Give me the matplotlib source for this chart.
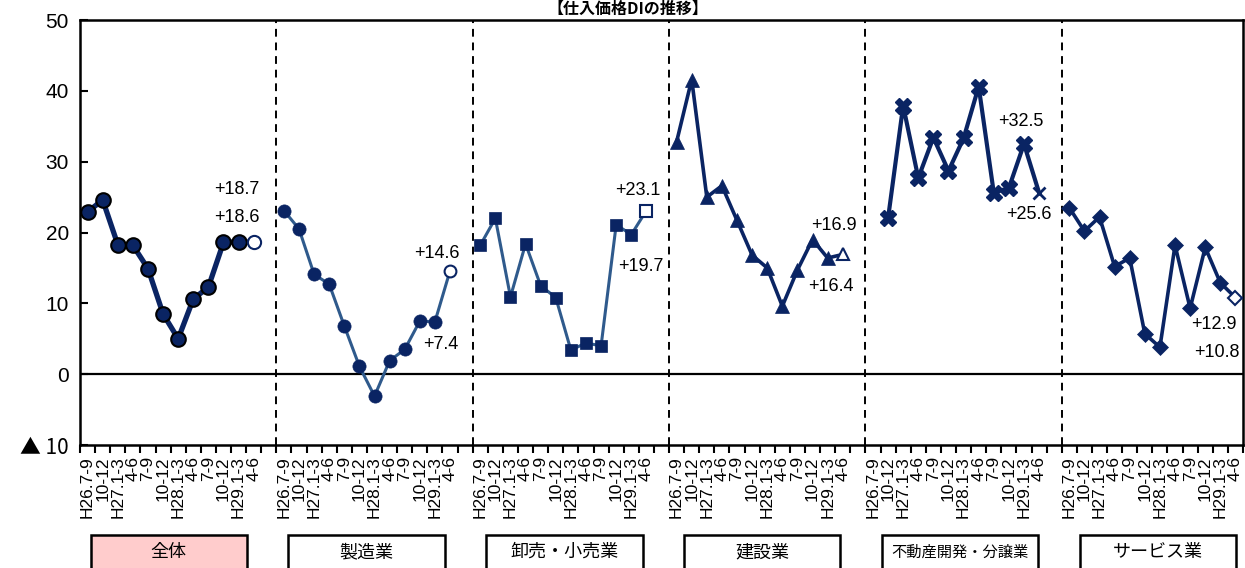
import numpy as np
import matplotlib.pyplot as plt
import matplotlib.transforms as mtransforms
from matplotlib.patches import Rectangle

plt.rcParams['font.family'] = ['Liberation Sans', 'Noto Sans CJK JP', 'DejaVu Sans']

periods = ["H26.7-9", "10-12", "H27.1-3", "4-6", "7-9", "10-12",
           "H28.1-3", "4-6", "7-9", "10-12", "H29.1-3", "4-6"]
industries = ["全体", "製造業", "卸売・小売業", "建設業", "不動産開発・分譲業", "サービス業"]

# last value of each series = forecast (open marker)
zentai = [22.9, 24.6, 18.3, 18.2, 14.9, 8.5, 5.0, 10.6, 12.3, 18.6, 18.7, 18.6]
seizo = [23.1, 20.5, 14.1, 12.7, 6.8, 1.1, -3.1, 1.9, 3.5, 7.5, 7.4, 14.6]
oroshi = [18.2, 22.0, 10.9, 18.4, 12.5, 10.8, 3.4, 4.4, 4.0, 21.1, 19.7, 23.1]
kensetsu = [32.8, 41.6, 25.0, 26.6, 21.7, 16.8, 15.0, 9.6, 14.7, 19.0, 16.4, 16.9]
fudosan = [np.nan, 22.0, 37.9, 27.7, 33.4, 28.7, 33.3, 40.6, 25.6, 26.3, 32.5, 25.6]
service = [23.5, 20.2, 22.2, 15.2, 16.4, 5.7, 3.8, 18.2, 9.3, 17.9, 12.9, 10.8]

navy = '#0a2463'
steel = '#2f5a8c'

# series, line colour, line width, marker, marker size, edge colour
styles = [
    (zentai, navy, 3.8, 'o', 10.5, 'black'),
    (seizo, steel, 2.2, 'o', 9.5, navy),
    (oroshi, steel, 2.2, 's', 9, navy),
    (kensetsu, navy, 2.6, '^', 9.5, navy),
    (fudosan, navy, 3.0, 'X', 11, navy),
    (service, navy, 2.6, 'D', 8, navy),
]

# data labels: (text, x slot, y)
labels = [
    ("+18.7", 11.9, 26.0, 'right'), ("+18.6", 11.9, 22.1, 'right'),
    ("+14.6", 23.6, 17.0, 'center'), ("+7.4", 23.9, 4.2, 'center'),
    ("+23.1", 36.9, 25.9, 'center'), ("+19.7", 37.1, 15.2, 'center'),
    ("+16.9", 49.9, 21.0, 'center'), ("+16.4", 49.7, 12.4, 'center'),
    ("+32.5", 62.3, 35.6, 'center'), ("+25.6", 62.8, 22.6, 'center'),
    ("+12.9", 75.1, 7.0, 'center'), ("+10.8", 75.3, 3.0, 'center'),
]

n_slots = 13 * 5 + 12

fig = plt.figure(figsize=(12.45, 5.68), dpi=100)
ax = fig.add_axes([80 / 1245, 1 - 445 / 568, 1163 / 1245, 425 / 568])

for k, (vals, lc, lw, mk, ms, ec) in enumerate(styles):
    x = 13 * k + np.arange(len(vals)) + 0.5
    v = np.array(vals, dtype=float)
    ax.plot(x, v, color=lc, lw=lw, zorder=3)
    if mk == 'X':
        ax.plot(x[:-1], v[:-1], ls='none', marker=mk, ms=ms, mfc=navy, mec=ec, zorder=4)
        ax.plot(x[-1], v[-1], ls='none', marker='x', ms=8, mec=navy, mew=2, zorder=4)
    else:
        ax.plot(x[:-1], v[:-1], ls='none', marker=mk, ms=ms, mfc=navy, mec=ec,
                mew=1.5 if ec == 'black' else 0.5, zorder=4)
        ax.plot(x[-1], v[-1], ls='none', marker=mk, ms=ms - 1, mfc='white', mec=navy,
                mew=1.5, zorder=4)

for txt, xs, ys, ha in labels:
    ax.text(xs, ys, txt, fontsize=13, ha=ha, va='center', zorder=5)

ax.axhline(0, color='black', lw=1.6, zorder=2)
for k in range(1, 6):
    ax.axvline(13 * k, color='black', lw=1.4, ls=(0, (4, 3)), zorder=1)

ax.set_xlim(0, n_slots)
ax.set_ylim(-10, 50)
ax.set_yticks(np.arange(-10, 51, 10))
ax.set_yticklabels(["▲ 10"] + [str(v) for v in range(0, 51, 10)], fontsize=15)
ax.get_yticklabels()[0].set_family(['Noto Sans CJK JP', 'DejaVu Sans'])
ax.tick_params(axis='y', direction='in', length=6, width=1.5, pad=8)

centers = []
ticklabels = []
for k in range(6):
    for i, p in enumerate(periods):
        centers.append(13 * k + i + 0.5)
        ticklabels.append(p)
ax.set_xticks(centers)
ax.set_xticklabels(ticklabels, rotation=90, fontsize=12.5)
ax.tick_params(axis='x', which='major', length=0, pad=8)
ax.set_xticks(np.arange(0, n_slots + 1), minor=True)
ax.tick_params(axis='x', which='minor', direction='out', length=6, width=1.5)

for s in ax.spines.values():
    s.set_linewidth(1.8)

# industry boxes under the axis
trans = mtransforms.blended_transform_factory(ax.transData, fig.transFigure)
for k, name in enumerate(industries):
    x0 = 13 * k + 0.7 + 0.1 * k
    r = Rectangle((x0, -0.05), 10.35, 0.05 + 1 - 535 / 568, transform=trans,
                  facecolor='#ffcccc' if k == 0 else 'white', edgecolor='black',
                  lw=1.8, clip_on=False)
    fig.add_artist(r)
    fig.text(x0 + 10.35 / 2, 0.028, name, transform=trans,
             fontsize=11 if len(name) > 6 else 13,
             ha='center', va='center', family=['Noto Sans CJK JP', 'DejaVu Sans'])

# title sits in the thin strip above the plot
fig.text(0.504, 1 - 1 / 568, "【仕入価格DIの推移】", fontsize=11.5, fontweight='bold',
         ha='center', va='top', family=['Noto Sans CJK JP', 'DejaVu Sans'])

fig.savefig("out.png", dpi=100)
